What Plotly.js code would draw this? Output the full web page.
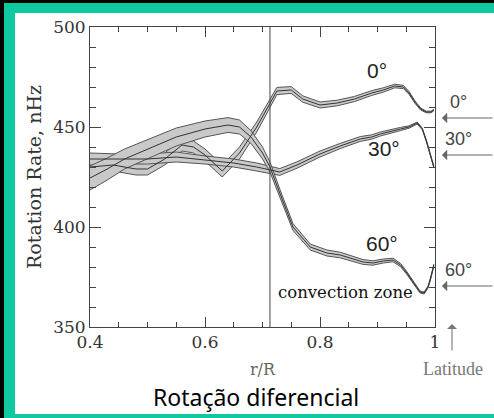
<!DOCTYPE html>
<html>
<head>
<meta charset="utf-8">
<script src="https://cdn.plot.ly/plotly-3.0.1.min.js"></script>
<style>
  html, body { margin:0; padding:0; background:#fff; width:494px; height:418px; overflow:hidden; }
  .blk { position:absolute; background:#000; }
  .grn { position:absolute; background:#10c8a0; }
  #plot { position:absolute; left:15px; top:13px; width:479px; height:401px; }
</style>
</head>
<body>
<div class="blk" style="left:0;top:0;width:4px;height:418px"></div>
<div class="blk" style="left:0;top:0;width:494px;height:3px"></div>
<div class="grn" style="left:4px;top:3px;width:11px;height:415px"></div>
<div class="grn" style="left:4px;top:3px;width:490px;height:10px"></div>
<div class="grn" style="left:4px;top:414px;width:490px;height:4px"></div>
<div id="plot"></div>
<script>
// ---- data ----
const r0   = [0.40,0.44,0.48,0.50,0.53,0.56,0.58,0.60,0.63,0.65,0.66,0.69,0.713,0.725,0.75,0.77,0.80,0.83,0.86,0.89,0.91,0.93,0.945,0.955,0.965,0.975,0.985,0.993,0.998];
const v0   = [430,431,429,429,434,441,440,436,428,434,437,450,462,468,468.5,464,461,462,464,467,468.5,470.5,470,467,462.5,459,457.5,457.5,458.5];
const e0   = [3,3,3,3,3,3,3,3,3,3,3,2.5,2,1.8,1.7,1.6,1.5,1.4,1.3,1.2,1.1,0.9,0.8,0.7,0.6,0.5,0.4,0.4,0.4];

const r30  = [0.40,0.45,0.50,0.55,0.60,0.65,0.69,0.713,0.73,0.76,0.80,0.835,0.87,0.89,0.905,0.94,0.955,0.969,0.978,0.985,0.992,0.998];
const v30  = [434,434,434,435,433.5,432,430,428.5,427.5,431,436.5,440.5,444,445,446.5,449,450,452,449,443,436,430];
const e30  = [3,2.5,2.5,2.5,2,2,2,1.8,1.7,1.6,1.5,1.3,1.2,1.1,1,0.8,0.6,0.5,0.4,0.4,0.4,0.4];

const r60  = [0.40,0.43,0.46,0.50,0.55,0.60,0.64,0.66,0.68,0.70,0.713,0.73,0.753,0.783,0.812,0.835,0.857,0.875,0.892,0.91,0.927,0.94,0.951,0.963,0.974,0.981,0.988,0.993,0.998];
const v60  = [424.5,429,434,439,445,449,451,450,445,437,430,417,400,390,387,386,384,382.5,382,383,383.5,381,377,372,367.5,367,370,375,381];
const e60  = [6,5.5,5,4.8,4.5,4,3.7,3.5,3.2,3,2.5,2,1.7,1.5,1.5,1.4,1.3,1.2,1.1,1,0.9,0.8,0.7,0.6,0.5,0.5,0.5,0.5,0.5];

const latitudes    = ['0°','30°','60°'];
const surfaceRates = [454.5, 436, 370.5];   // arrows on the right
const labelPos     = [[0.899,478.5],[0.911,439.5],[0.908,392]];
const tachocline   = 0.713;
const xRange = [0.4, 1.0];
const yRange = [350, 500];
const xTicks = [0.4,0.6,0.8,1];
const yTicks = [350,400,450,500];

// ---- build traces ----
const bands = [[r0,v0,e0],[r30,v30,e30],[r60,v60,e60]];
const traces = [];
bands.forEach(([r,v,e]) => {
  const lo = v.map((x,i)=>x-e[i]);
  const hi = v.map((x,i)=>x+e[i]);
  traces.push({x:r, y:lo, mode:'lines', line:{color:'#555', width:1}, hoverinfo:'skip', showlegend:false});
  traces.push({x:r, y:hi, mode:'lines', fill:'tonexty', fillcolor:'#c9c9c9', line:{color:'#555', width:1}, hoverinfo:'skip', showlegend:false});
});
bands.forEach(([r,v]) => {
  traces.push({x:r, y:v, mode:'lines', line:{color:'#333', width:1}, hoverinfo:'skip', showlegend:false});
});
traces.push({x:[tachocline,tachocline], y:yRange, mode:'lines',
             line:{color:'#444', width:1}, hoverinfo:'skip', showlegend:false});
// invisible trace to carry the mirrored tick axes
traces.push({x:xRange, y:yRange, xaxis:'x2', yaxis:'y2', mode:'lines', line:{width:0, color:'rgba(0,0,0,0)'}, hoverinfo:'skip', showlegend:false});

// data -> paper helpers (for marks placed outside the axis range)
const px = x => (x - xRange[0])/(xRange[1]-xRange[0]);
const py = y => (y - yRange[0])/(yRange[1]-yRange[0]);

const serif = 'DejaVu Serif';
const annotations = [];
latitudes.forEach((lab,i) => {
  annotations.push({x:labelPos[i][0], y:labelPos[i][1], xref:'x', yref:'y', text:lab, showarrow:false,
    xanchor:'center', yanchor:'middle', font:{family:'Liberation Sans', size:21, color:'#222'}});
});
latitudes.forEach((lab,i) => {
  annotations.push({x:px(1.041), y:py(surfaceRates[i] + 8), xref:'paper', yref:'paper', text:lab, showarrow:false,
    xanchor:'center', yanchor:'middle', font:{family:'Liberation Sans', size:18, color:'#444'}});
  annotations.push({x:px(1.012), y:py(surfaceRates[i]), xref:'paper', yref:'paper', ax:56, ay:0,
    text:'', showarrow:true, arrowhead:1, arrowsize:1.6, arrowwidth:1.1, arrowcolor:'#666'});
});
annotations.push({x:px(1.031), y:py(329), xref:'paper', yref:'paper', text:'Latitude', showarrow:false,
  xanchor:'center', yanchor:'middle', font:{family:'Liberation Serif', size:18, color:'#777'}});
annotations.push({x:px(1.0296), y:py(351.5), xref:'paper', yref:'paper', ax:0, ay:28,
  text:'', showarrow:true, arrowhead:1, arrowsize:1.5, arrowwidth:1.1, arrowcolor:'#777'});
annotations.push({x:0.845, y:367.5, xref:'x', yref:'y', text:'convection zone', showarrow:false,
  xanchor:'center', yanchor:'middle', font:{family:serif, size:16.5, color:'#111'}});
annotations.push({x:0.481, y:-0.235, xref:'paper', yref:'paper', text:'Rotação diferencial', showarrow:false,
  xanchor:'center', yanchor:'middle', font:{family:'Noto Sans', size:23, color:'#000'}});

const axisCommon = {showgrid:false, zeroline:false, tickcolor:'#444', ticks:'inside'};
const layout = {
  width:479, height:401,
  margin:{l:75, r:59, t:14, b:87},
  paper_bgcolor:'#fff', plot_bgcolor:'#fff',
  showlegend:false,
  xaxis:Object.assign({}, axisCommon, {range:xRange, tickmode:'array', tickvals:xTicks, ticktext:xTicks.map(String),
    ticklen:10, showline:true, linecolor:'#444', linewidth:1, mirror:true,
    minor:{tickmode:'linear', tick0:0.4, dtick:0.05, ticks:'inside', ticklen:5, tickcolor:'#444'},
    tickfont:{family:serif, size:17, color:'#333'},
    title:{text:'r/R', font:{family:serif, size:16, color:'#666'}, standoff:12}}),
  yaxis:Object.assign({}, axisCommon, {range:yRange, tickmode:'array', tickvals:yTicks, ticktext:yTicks.map(String),
    ticklen:11, showline:true, linecolor:'#444', linewidth:1, mirror:true,
    minor:{tickmode:'linear', tick0:350, dtick:10, ticks:'inside', ticklen:6, tickcolor:'#444'},
    tickfont:{family:serif, size:17, color:'#333'},
    title:{text:'Rotation Rate, nHz', font:{family:serif, size:19, color:'#333'}, standoff:6}}),
  xaxis2:Object.assign({}, axisCommon, {range:xRange, overlaying:'x', side:'top', anchor:'y2', tickmode:'array', tickvals:xTicks,
    ticklen:10, showticklabels:false, showline:false,
    minor:{tickmode:'linear', tick0:0.4, dtick:0.05, ticks:'inside', ticklen:5, tickcolor:'#444'}}),
  yaxis2:Object.assign({}, axisCommon, {range:yRange, overlaying:'y', side:'right', anchor:'x2', tickmode:'array', tickvals:yTicks,
    ticklen:11, showticklabels:false, showline:false,
    minor:{tickmode:'linear', tick0:350, dtick:10, ticks:'inside', ticklen:6, tickcolor:'#444'}}),
  annotations:annotations
};
Plotly.newPlot('plot', traces, layout, {staticPlot:true, displayModeBar:false});
</script>
</body>
</html>
